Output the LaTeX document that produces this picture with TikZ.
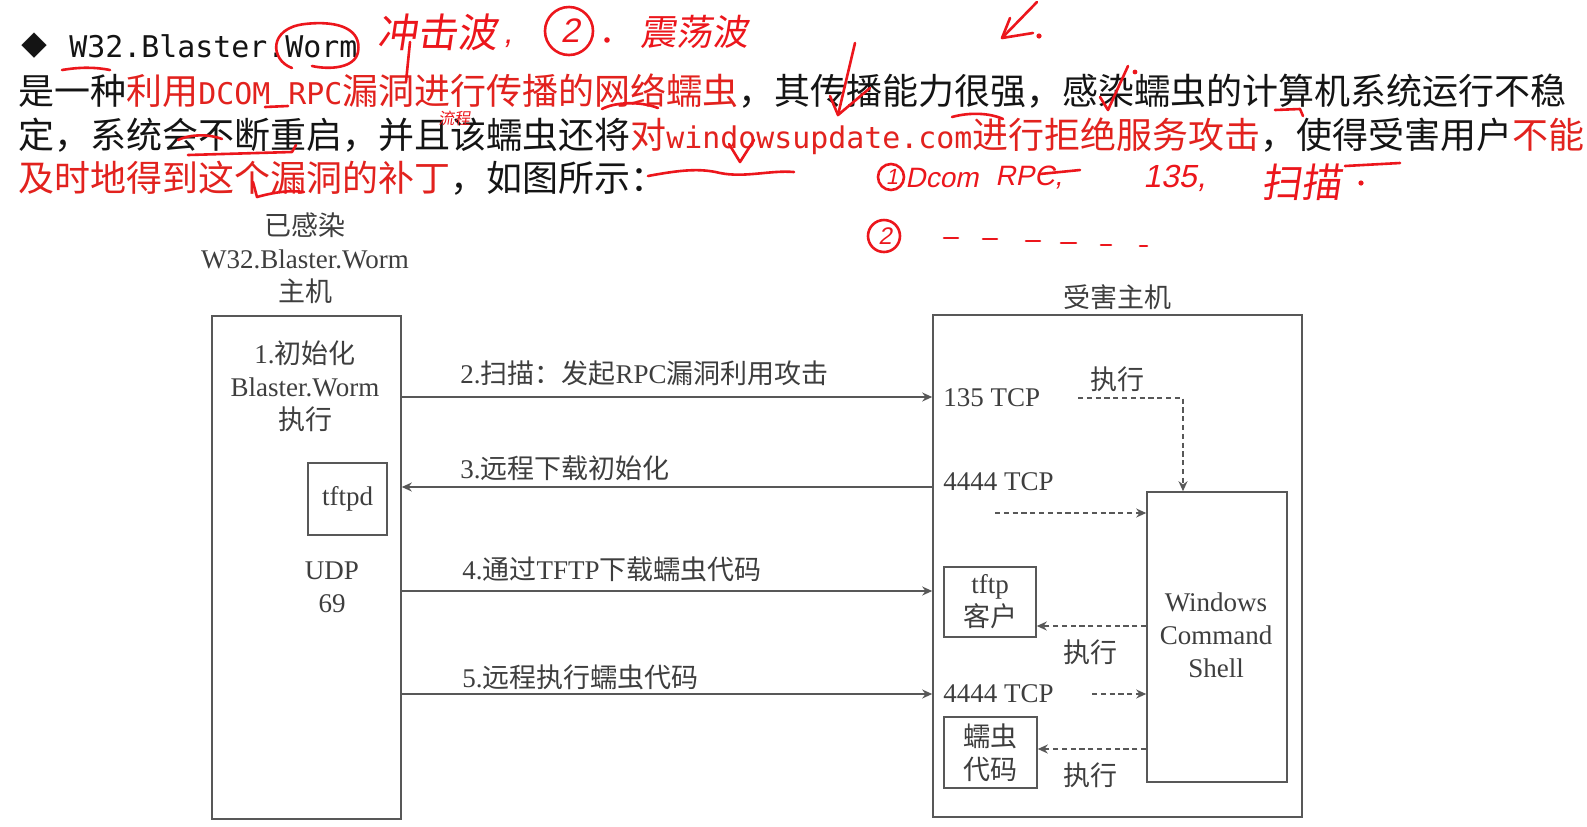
\documentclass[tikz,border=0pt]{standalone}
\usepackage{fontspec}
\setmainfont{Liberation Serif}
\newfontfamily\cjk{Noto Sans CJK SC}
\newfontfamily\monof{DejaVu Sans Mono}
\newfontfamily\handcjk[FakeSlant=0.15]{Noto Sans CJK SC}
\newfontfamily\handlat[FakeSlant=0.2]{Liberation Sans}
\usetikzlibrary{arrows.meta}
\definecolor{tred}{RGB}{226,34,30}
\definecolor{hred}{RGB}{236,22,28}
\definecolor{ptxt}{RGB}{20,20,20}
\definecolor{dtxt}{RGB}{62,62,62}
\definecolor{dline}{RGB}{88,88,88}
\newcommand\zh[1]{{\cjk #1}}
\newcommand\mo[1]{{\monof\fontsize{14.95}{18}\selectfont #1}}
\begin{document}
\begin{tikzpicture}[x=0.5pt,y=-0.5pt,
  para/.style={anchor=base west, inner sep=0pt, text=ptxt, font=\cjk\fontsize{18}{22}\selectfont},
  dtext/.style={text=dtxt, font=\fontsize{13.5}{16.5}\selectfont, align=center, inner sep=0pt},
  dbox/.style={draw=dline, line width=0.8pt, inner sep=0pt},
  conn/.style={draw=dline, line width=0.8pt, -{Stealth[length=5pt,width=4.5pt]}},
  dconn/.style={conn, dash pattern=on 2.6pt off 1.8pt},
  hand/.style={draw=hred, line width=1.3pt, line cap=round, line join=round},
  htext/.style={text=hred, inner sep=0pt, anchor=west}]
\useasboundingbox (0,0) rectangle (1587,826);
\fill[white] (0,0) rectangle (1587,826);

% ---------- paragraph ----------
\node[para, font=\cjk\fontsize{13}{15}\selectfont] (hdiam) at (21,55) {◆};
\node[para] (htitle) at (69,57) {\mo{W32.Blaster.Worm}};
\node[para] (l1) at (18,104) {是一种{\color{tred}利用\mo{DCOM RPC}漏洞进行传播的网络蠕虫}，其传播能力很强，感染蠕虫的计算机系统运行不稳};
\node[para] (l2) at (18,148) {定，系统会不断重启，并且该蠕虫还将{\color{tred}对\mo{windowsupdate.com}进行拒绝服务攻击}，使得受害用户{\color{tred}不能}};
\node[para] (l3) at (18,191) {{\color{tred}及时地得到这个漏洞的补丁}，如图所示：};

% ---------- handwritten annotations ----------
\draw[hand] (292,68) .. controls (270,60) and (268,28) .. (305,24) .. controls (340,20) and (362,30) .. (358,52) .. controls (355,68) and (330,70) .. (312,66);
\node[htext, font=\handcjk\fontsize{20}{22}\selectfont] (hw1) at (377,32) {冲击波};
\node[htext, font=\handlat\fontsize{16}{18}\selectfont] (hw1c) at (503,44) {,};
\draw[hand] (410,42) -- (406,82);
\draw[hand] (569,31) circle[radius=12pt];
\node[htext, anchor=center, font=\handlat\fontsize{17}{18}\selectfont] (hw2n) at (570,31) {2};
\fill[hred] (607,40) circle (1.4pt);
\node[htext, font=\handcjk\fontsize{18}{20}\selectfont] (hw2) at (640,32) {震荡波};
\draw[hand] (1037,2) -- (1002,38);
\draw[hand] (1010,18) -- (1002,38) -- (1033,33);
\fill[hred] (1039,36) circle (1.3pt);
\draw[hand] (855,43) -- (838,115);
\draw[hand] (830,96) -- (838,115) -- (870,88);
\draw[hand] (1100,97) -- (1108,110) -- (1128,66);
\fill[hred] (1135,72) circle (1.2pt);
\draw[hand] (62,70) .. controls (80,67) and (95,67) .. (110,70);
\draw[hand] (265,107) -- (288,106);
\draw[hand] (602,109) .. controls (615,102) and (640,101) .. (658,108);
\node[htext, font=\handcjk\fontsize{8}{9}\selectfont] (hwsmall) at (438,118) {流程};
\draw[hand] (952,117) .. controls (970,112) and (990,113) .. (1003,119);
\draw[hand] (1275,110) -- (1300,109) -- (1303,116);
\draw[hand] (178,140) .. controls (190,134) and (210,134) .. (222,139);
\draw[hand] (188,155) -- (292,152) -- (296,145);
\draw[hand] (729,144) -- (740,162) -- (754,140);
\draw[hand] (253,182) -- (257,197) .. controls (275,192) and (290,190) .. (304,192);
\draw[hand] (648,176) .. controls (680,170) and (700,168) .. (720,173) .. controls (745,178) and (770,170) .. (794,172);
% row 1
\draw[hand] (891,177) circle[radius=6.5pt];
\node[htext, anchor=center, font=\handlat\fontsize{11}{12}\selectfont] (hw3n) at (892,177) {1};
\node[htext, font=\handlat\fontsize{14}{16}\selectfont] (hw3a) at (905,178) {Dcom};
\node[htext, font=\handlat\fontsize{14}{16}\selectfont] (hw3b) at (995,178) {RPC,};
\draw[hand] (1040,174) -- (1080,170);
\node[htext, font=\handlat\fontsize{16}{18}\selectfont] (hw3c) at (1143,178) {135,};
\node[htext, font=\handcjk\fontsize{20}{22}\selectfont] (hw3d) at (1261,182) {扫描};
\fill[hred] (1361,183) circle (1.3pt);
\draw[hand] (1345,166) -- (1400,163);
% row 2
\draw[hand] (884,236) circle[radius=8pt];
\node[htext, anchor=center, font=\handlat\fontsize{12}{13}\selectfont] (hw4n) at (885,236) {2};
\foreach \xa/\xb/\yy in {944/958/238, 983/997/239, 1026/1040/241, 1061/1076/243, 1101/1111/245, 1140/1147/246}
  \draw[hand] (\xa,\yy) -- (\xb,\yy);

% ---------- diagram ----------
\node[dtext] (inflbl) at (305,258) {\zh{已感染}\\W32.Blaster.Worm\\\zh{主机}};
\node[dtext] (viclbl) at (1117,297) {\zh{受害主机}};
\node[dbox, minimum width=94.5pt, minimum height=251.5pt] (inf) at (306.5,567.5) {};
\node[dbox, minimum width=184.5pt, minimum height=251pt] (vic) at (1117.5,566) {};
\node[dbox, minimum width=70pt, minimum height=145pt] (shell) at (1217,637) {};
\node[dtext] (init) at (305,386) {1.\zh{初始化}\\Blaster.Worm\\\zh{执行}};
\node[dbox, dtext, minimum width=39.5pt, minimum height=36pt] (tftpd) at (347.5,499) {tftpd};
\node[dtext] (udp) at (332,587) {UDP\\69};
\node[dtext] (shelltxt) at (1216,635) {Windows\\Command\\Shell};
\node[dbox, dtext, minimum width=46pt, minimum height=35pt] (tftpc) at (990,602) {tftp\\\zh{客户}};
\node[dbox, dtext, minimum width=46.5pt, minimum height=35.5pt] (wcode) at (990.5,752.5) {\zh{蠕虫}\\\zh{代码}};
\node[dtext, anchor=west] (p135) at (943,398) {135 TCP};
\node[dtext, anchor=west] (p4444a) at (943,482) {4444 TCP};
\node[dtext, anchor=west] (p4444b) at (943,694) {4444 TCP};
\node[dtext] (ex1) at (1117,379) {\zh{执行}};
\node[dtext] (ex2) at (1090,652) {\zh{执行}};
\node[dtext] (ex3) at (1090,775) {\zh{执行}};
\node[dtext, anchor=west] (m2) at (460,373) {2.\zh{扫描：发起}RPC\zh{漏洞利用攻击}};
\node[dtext, anchor=west] (m3) at (460,468) {3.\zh{远程下载初始化}};
\node[dtext, anchor=west] (m4) at (462,569) {4.\zh{通过}TFTP\zh{下载蠕虫代码}};
\node[dtext, anchor=west] (m5) at (462,677) {5.\zh{远程执行蠕虫代码}};

\coordinate (y2) at (0,397);
\coordinate (y3) at (0,487);
\coordinate (y4) at (0,591);
\coordinate (y5) at (0,694);
\draw[conn] (inf.east |- y2) -- (vic.west |- y2);
\draw[conn] (vic.west |- y3) -- (inf.east |- y3);
\draw[conn] (inf.east |- y4) -- (vic.west |- y4);
\draw[conn] (inf.east |- y5) -- (vic.west |- y5);

\coordinate (d1) at (1078,398);
\coordinate (d2) at (995,513);
\coordinate (d3) at (1092,694);
\coordinate (e1) at (0,626);
\coordinate (e2) at (0,749);
\draw[dconn] (d1) -| ([xshift=-17pt]shell.north);
\draw[dconn] (d2) -- (d2 -| shell.west);
\draw[dconn] (shell.west |- e1) -- (tftpc.east |- e1);
\draw[dconn] (d3) -- (d3 -| shell.west);
\draw[dconn] (shell.west |- e2) -- (wcode.east |- e2);
\end{tikzpicture}
\end{document}
